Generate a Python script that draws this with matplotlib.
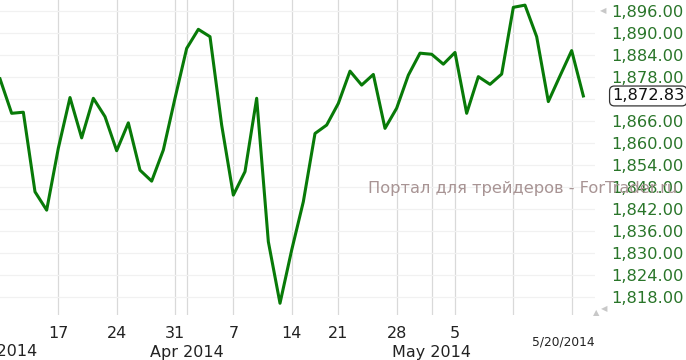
import numpy as np
import matplotlib
matplotlib.use("Agg")
import matplotlib.pyplot as plt
import matplotlib.transforms as mtransforms

# trading days shown (weekends and Good Friday skipped)
dates = ["3/10", "3/11", "3/12", "3/13", "3/14",
         "3/17", "3/18", "3/19", "3/20", "3/21",
         "3/24", "3/25", "3/26", "3/27", "3/28",
         "3/31", "4/1", "4/2", "4/3", "4/4",
         "4/7", "4/8", "4/9", "4/10", "4/11",
         "4/14", "4/15", "4/16", "4/17",
         "4/21", "4/22", "4/23", "4/24", "4/25",
         "4/28", "4/29", "4/30", "5/1", "5/2",
         "5/5", "5/6", "5/7", "5/8", "5/9",
         "5/12", "5/13", "5/14", "5/15", "5/16",
         "5/19", "5/20"]
close = [1877.5, 1868.1, 1868.4, 1846.7, 1841.7,
         1858.6, 1872.4, 1861.4, 1872.2, 1867.2,
         1857.9, 1865.5, 1852.6, 1849.6, 1858.1,
         1872.2, 1885.8, 1891.0, 1889.0, 1864.9,
         1845.8, 1852.2, 1872.2, 1833.1, 1816.3,
         1830.8, 1844.0, 1862.6, 1864.9,
         1870.8, 1879.6, 1875.8, 1878.7, 1864.0,
         1869.5, 1878.5, 1884.5, 1884.2, 1881.5,
         1884.7, 1868.1, 1878.1, 1876.0, 1878.8,
         1897.0, 1897.6, 1889.0, 1871.3, 1878.3,
         1885.2, 1872.83]

week_ticks = ["3/17", "3/24", "3/31", "4/7", "4/14", "4/21", "4/28", "5/5", "5/12", "5/19"]
week_labels = ["17", "24", "31", "7", "14", "21", "28", "5", "", ""]
month_starts = ["3/10", "4/1", "5/1"]
month_labels = ["Mar 2014", "Apr 2014", "May 2014"]
last_date_label = "5/20/2014"
y_ticks = np.arange(1818, 1897, 6)
watermark = "Портал для трейдеров - ForTrader.ru"

W, H = 686, 360
fig = plt.figure(figsize=(W / 100, H / 100), dpi=100)
ax = fig.add_axes([0, 1 - 315 / H, 595 / W, 315 / H])

x = np.arange(len(dates))
ax.set_xlim(0, 51)
ax.set_ylim(1813.1, 1899.0)

for s in ax.spines.values():
    s.set_visible(False)

# vertical grid: weekly + month boundaries
grid_idx = [dates.index(d) for d in week_ticks] + [dates.index(d) for d in month_starts[1:]]
for gi in grid_idx:
    ax.axvline(gi, color="#d9d9d9", lw=0.9, zorder=1)

ax.plot(x, close, color="#087a08", lw=2.2, zorder=3)

# right y axis
ax.yaxis.tick_right()
ax.set_yticks(y_ticks)
ax.set_yticklabels(["" if v == 1872 else f"{v:,.2f}" for v in y_ticks])
ax.tick_params(axis="y", length=0, pad=12, labelsize=11.7, labelcolor="#297529")
ax.grid(axis="y", color="#f1f1f1", lw=0.9, zorder=0)

# bottom week labels
ax.set_xticks([dates.index(d) for d in week_ticks])
ax.set_xticklabels(week_labels)
ax.tick_params(axis="x", length=0, pad=8, labelsize=11.5, labelcolor="#222222")

tb = mtransforms.blended_transform_factory(ax.transData, fig.transFigure)
for d, lab in zip(month_starts, month_labels):
    xi = dates.index(d) if d != "3/10" else -0.1
    ax.text(xi, 1 - 352 / H, lab, transform=tb, ha="center", va="center",
            fontsize=11.5, color="#222222", clip_on=False)

ax.text(1.0, 1 - 342 / H, last_date_label, transform=mtransforms.blended_transform_factory(ax.transAxes, fig.transFigure),
        ha="right", va="center", fontsize=8.8, color="#222222")

# last value box
ty = mtransforms.blended_transform_factory(fig.transFigure, ax.transData)
ax.text(612 / W, close[-1], f"{close[-1]:,.2f}", transform=ty, ha="left", va="center",
        fontsize=11.7, color="#111111", zorder=5,
        bbox=dict(boxstyle="round,pad=0.15,rounding_size=0.3", fc="white", ec="#333333", lw=0.9))

# watermark
fig.text(368 / W, 1 - 188 / H, watermark, ha="left", va="center", fontsize=11.7,
         color="#a89494", zorder=0)

# scroll markers
fig.text(603 / W, 1 - 11 / H, "◀", ha="center", va="center", fontsize=6, color="#c8c8c8")
fig.text(596 / W, 1 - 313 / H, "▲", ha="center", va="center", fontsize=6, color="#c8c8c8")
fig.text(604 / W, 1 - 309 / H, "◀", ha="center", va="center", fontsize=6, color="#c8c8c8")

fig.savefig("out.png", dpi=100, facecolor="white")
